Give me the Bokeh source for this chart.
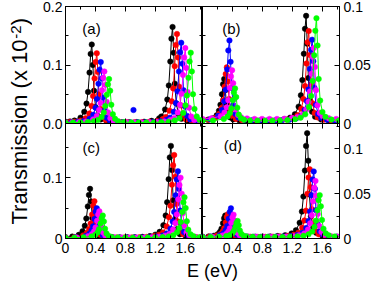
import math
from bokeh.plotting import figure
from bokeh.layouts import row, column
from bokeh.models import Range1d, LinearAxis, FixedTicker, Label, CustomLabelingPolicy
from bokeh.embed import file_html
from bokeh.resources import INLINE
from bokeh.core.properties import value

# ---------------- data: energy E (eV) and transmission T (x 1e-2) ----------------
# panel (a)
A_BLACK_E = [0.0, 0.06, 0.12, 0.201, 0.251, 0.281, 0.301, 0.321, 0.336, 0.351, 0.366, 0.381, 0.401, 0.431, 0.471, 0.55, 0.65, 0.75, 0.85, 0.95, 1.05, 1.15, 1.25, 1.28, 1.33, 1.36, 1.38, 1.40, 1.415, 1.43, 1.445, 1.46, 1.48, 1.51, 1.55, 1.63, 1.73, 1.83, 1.9]
A_BLACK_T = [0.003, 0.0035, 0.005, 0.010, 0.020, 0.034, 0.054, 0.087, 0.119, 0.135, 0.100, 0.056, 0.028, 0.013, 0.007, 0.0034, 0.0023, 0.0021, 0.0021, 0.0023, 0.003, 0.0045, 0.0087, 0.012, 0.024, 0.041, 0.065, 0.106, 0.145, 0.165, 0.121, 0.068, 0.034, 0.016, 0.008, 0.0035, 0.0021, 0.0016, 0.0014]
A_RED_E = [0.0, 0.06, 0.12, 0.2, 0.268, 0.318, 0.348, 0.368, 0.388, 0.403, 0.418, 0.433, 0.448, 0.468, 0.498, 0.538, 0.62, 0.72, 0.82, 0.92, 1.02, 1.12, 1.22, 1.30, 1.339, 1.389, 1.419, 1.439, 1.459, 1.474, 1.489, 1.504, 1.519, 1.539, 1.569, 1.609, 1.69, 1.79, 1.9]
A_RED_T = [0.002, 0.0025, 0.0031, 0.0049, 0.009, 0.017, 0.030, 0.047, 0.077, 0.105, 0.120, 0.088, 0.050, 0.025, 0.012, 0.006, 0.0031, 0.0022, 0.002, 0.002, 0.0023, 0.0029, 0.0043, 0.0075, 0.011, 0.022, 0.038, 0.060, 0.098, 0.134, 0.153, 0.113, 0.063, 0.031, 0.015, 0.007, 0.0033, 0.002, 0.0016]
A_BLUE_E = [0.0, 0.08, 0.16, 0.24, 0.321, 0.371, 0.401, 0.421, 0.441, 0.456, 0.471, 0.486, 0.501, 0.521, 0.551, 0.591, 0.67, 0.77, 0.87, 0.97, 1.07, 1.17, 1.27, 1.35, 1.396, 1.446, 1.476, 1.496, 1.516, 1.531, 1.546, 1.561, 1.576, 1.596, 1.626, 1.666, 1.746, 1.846, 1.9]
A_BLUE_T = [0.0018, 0.0021, 0.0027, 0.004, 0.008, 0.015, 0.027, 0.042, 0.068, 0.092, 0.105, 0.077, 0.044, 0.022, 0.010, 0.005, 0.0029, 0.0021, 0.0019, 0.002, 0.0022, 0.0027, 0.0038, 0.0065, 0.010, 0.020, 0.035, 0.055, 0.089, 0.122, 0.138, 0.102, 0.057, 0.029, 0.013, 0.007, 0.0031, 0.002, 0.0017]
A_MAGENTA_E = [0.0, 0.09, 0.18, 0.27, 0.369, 0.419, 0.449, 0.469, 0.489, 0.504, 0.519, 0.534, 0.549, 0.569, 0.599, 0.639, 0.72, 0.82, 0.92, 1.02, 1.12, 1.22, 1.32, 1.40, 1.45, 1.50, 1.53, 1.55, 1.57, 1.585, 1.60, 1.615, 1.63, 1.65, 1.68, 1.72, 1.80, 1.9]
A_MAGENTA_T = [0.0015, 0.0018, 0.0022, 0.0032, 0.007, 0.013, 0.023, 0.035, 0.057, 0.078, 0.089, 0.066, 0.037, 0.019, 0.009, 0.005, 0.0027, 0.0019, 0.0017, 0.0018, 0.0021, 0.0024, 0.0036, 0.0059, 0.009, 0.019, 0.032, 0.051, 0.083, 0.113, 0.129, 0.095, 0.054, 0.027, 0.012, 0.006, 0.003, 0.0019]
A_GREEN_E = [0.0, 0.1, 0.2, 0.3, 0.38, 0.432, 0.482, 0.512, 0.532, 0.552, 0.567, 0.582, 0.597, 0.612, 0.632, 0.662, 0.702, 0.78, 0.88, 0.98, 1.08, 1.18, 1.28, 1.38, 1.46, 1.523, 1.573, 1.603, 1.623, 1.643, 1.658, 1.673, 1.688, 1.703, 1.723, 1.753, 1.793, 1.9]
A_GREEN_T = [0.0014, 0.0015, 0.0018, 0.0025, 0.0038, 0.006, 0.011, 0.019, 0.030, 0.049, 0.067, 0.076, 0.056, 0.032, 0.016, 0.008, 0.004, 0.0024, 0.0018, 0.0017, 0.0018, 0.0019, 0.0022, 0.0032, 0.0052, 0.009, 0.018, 0.031, 0.048, 0.078, 0.106, 0.121, 0.089, 0.050, 0.025, 0.012, 0.006, 0.0025]
A_BLUE_EXTRA_E = [0.908]
A_BLUE_EXTRA_T = [0.023]

# panel (b)
B_BLACK_E = [0.0, 0.07, 0.14, 0.19, 0.22, 0.24, 0.26, 0.275, 0.29, 0.305, 0.32, 0.34, 0.37, 0.41, 0.49, 0.59, 0.69, 0.79, 0.89, 0.99, 1.09, 1.17, 1.234, 1.284, 1.314, 1.334, 1.354, 1.369, 1.384, 1.399, 1.414, 1.434, 1.464, 1.504, 1.584, 1.684, 1.784, 1.9]
B_BLACK_T = [0.0027, 0.0032, 0.0044, 0.007, 0.0109, 0.016, 0.025, 0.0336, 0.038, 0.0285, 0.0168, 0.0092, 0.0052, 0.0035, 0.0027, 0.0024, 0.0024, 0.0025, 0.0026, 0.0029, 0.0036, 0.005, 0.0079, 0.0144, 0.0241, 0.0371, 0.0596, 0.0809, 0.092, 0.0682, 0.0389, 0.020, 0.010, 0.0058, 0.0034, 0.0026, 0.0024, 0.0022]
B_RED_E = [0.0, 0.08, 0.175, 0.225, 0.255, 0.275, 0.295, 0.31, 0.325, 0.34, 0.355, 0.375, 0.405, 0.445, 0.525, 0.625, 0.725, 0.825, 0.925, 1.025, 1.125, 1.205, 1.269, 1.319, 1.349, 1.369, 1.389, 1.404, 1.419, 1.434, 1.449, 1.469, 1.499, 1.539, 1.619, 1.719, 1.819, 1.9]
B_RED_T = [0.0027, 0.0032, 0.005, 0.0083, 0.0133, 0.0199, 0.0314, 0.0423, 0.048, 0.0358, 0.0209, 0.0112, 0.0061, 0.0039, 0.0029, 0.0025, 0.0025, 0.0025, 0.0025, 0.0028, 0.0034, 0.0046, 0.0071, 0.0126, 0.0209, 0.032, 0.0513, 0.0695, 0.079, 0.0586, 0.0336, 0.0174, 0.0089, 0.0052, 0.0032, 0.0025, 0.0023, 0.0022]
B_BLUE_E = [0.0, 0.1, 0.21, 0.26, 0.29, 0.31, 0.33, 0.345, 0.36, 0.375, 0.39, 0.41, 0.44, 0.48, 0.56, 0.66, 0.76, 0.86, 0.96, 1.06, 1.16, 1.25, 1.315, 1.365, 1.395, 1.415, 1.435, 1.45, 1.465, 1.48, 1.495, 1.515, 1.545, 1.585, 1.665, 1.765, 1.9]
B_BLUE_T = [0.0028, 0.0036, 0.0066, 0.0115, 0.019, 0.0289, 0.0462, 0.0625, 0.071, 0.0527, 0.0303, 0.0158, 0.0081, 0.0049, 0.0032, 0.0027, 0.0025, 0.0025, 0.0025, 0.0027, 0.0032, 0.0043, 0.0066, 0.0116, 0.0191, 0.0291, 0.0465, 0.063, 0.0716, 0.0532, 0.0305, 0.0159, 0.0082, 0.0049, 0.0031, 0.0025, 0.0022]
B_MAGENTA_E = [0.0, 0.12, 0.245, 0.295, 0.325, 0.345, 0.365, 0.38, 0.395, 0.41, 0.425, 0.445, 0.475, 0.515, 0.595, 0.695, 0.795, 0.895, 0.995, 1.095, 1.195, 1.27, 1.336, 1.386, 1.416, 1.436, 1.456, 1.471, 1.486, 1.501, 1.516, 1.536, 1.566, 1.606, 1.686, 1.786, 1.9]
B_MAGENTA_T = [0.0039, 0.0044, 0.0063, 0.0093, 0.0138, 0.0199, 0.0304, 0.0403, 0.0455, 0.0344, 0.0207, 0.0119, 0.0072, 0.0053, 0.0043, 0.0039, 0.0039, 0.0039, 0.0039, 0.0041, 0.0046, 0.0055, 0.0075, 0.0119, 0.0185, 0.0273, 0.0425, 0.057, 0.0645, 0.0483, 0.0285, 0.0157, 0.0089, 0.0061, 0.0045, 0.0039, 0.0038]
B_GREEN_E = [0.0, 0.14, 0.285, 0.335, 0.365, 0.385, 0.405, 0.42, 0.435, 0.45, 0.465, 0.485, 0.515, 0.555, 0.635, 0.735, 0.835, 0.935, 1.035, 1.135, 1.235, 1.31, 1.372, 1.422, 1.452, 1.472, 1.492, 1.507, 1.522, 1.537, 1.552, 1.572, 1.602, 1.642, 1.722, 1.822, 1.9]
B_GREEN_T = [0.0022, 0.0025, 0.0038, 0.0059, 0.0089, 0.0129, 0.0199, 0.0266, 0.030, 0.0226, 0.0135, 0.0076, 0.0045, 0.0032, 0.0025, 0.0024, 0.0023, 0.0024, 0.0026, 0.0029, 0.0037, 0.005, 0.0078, 0.0141, 0.0236, 0.0363, 0.0583, 0.0792, 0.090, 0.0667, 0.0381, 0.0196, 0.0098, 0.0057, 0.0034, 0.0026, 0.0024]

# panel (c)
C_BLACK_E = [0.0, 0.09, 0.178, 0.228, 0.258, 0.278, 0.298, 0.313, 0.328, 0.343, 0.358, 0.378, 0.408, 0.448, 0.528, 0.628, 0.728, 0.828, 0.928, 1.028, 1.128, 1.20, 1.258, 1.308, 1.338, 1.358, 1.378, 1.393, 1.408, 1.423, 1.438, 1.458, 1.488, 1.528, 1.608, 1.708, 1.808, 1.9]
C_BLACK_T = [0.0022, 0.0032, 0.006, 0.012, 0.021, 0.033, 0.053, 0.072, 0.082, 0.061, 0.034, 0.017, 0.008, 0.004, 0.0025, 0.002, 0.0018, 0.0019, 0.0021, 0.0027, 0.004, 0.0064, 0.011, 0.022, 0.038, 0.060, 0.098, 0.134, 0.153, 0.113, 0.063, 0.031, 0.015, 0.007, 0.0033, 0.002, 0.0016, 0.0014]
C_RED_E = [0.0, 0.12, 0.236, 0.286, 0.316, 0.336, 0.356, 0.371, 0.386, 0.401, 0.416, 0.436, 0.466, 0.506, 0.586, 0.686, 0.786, 0.886, 0.986, 1.086, 1.186, 1.25, 1.302, 1.352, 1.382, 1.402, 1.422, 1.437, 1.452, 1.467, 1.482, 1.502, 1.532, 1.572, 1.652, 1.752, 1.852, 1.9]
C_RED_T = [0.0016, 0.0023, 0.005, 0.0093, 0.0159, 0.0246, 0.0397, 0.0541, 0.0615, 0.0455, 0.0258, 0.0131, 0.0064, 0.0035, 0.0022, 0.0018, 0.0017, 0.0018, 0.002, 0.0026, 0.004, 0.0062, 0.010, 0.020, 0.035, 0.054, 0.089, 0.121, 0.138, 0.102, 0.057, 0.028, 0.013, 0.007, 0.0031, 0.002, 0.0015, 0.0014]
C_BLUE_E = [0.0, 0.13, 0.268, 0.318, 0.348, 0.368, 0.388, 0.403, 0.418, 0.433, 0.448, 0.468, 0.498, 0.538, 0.618, 0.718, 0.818, 0.918, 1.018, 1.118, 1.218, 1.30, 1.352, 1.402, 1.432, 1.452, 1.472, 1.487, 1.502, 1.517, 1.532, 1.552, 1.582, 1.622, 1.702, 1.802, 1.9]
C_BLUE_T = [0.0014, 0.0019, 0.0042, 0.0078, 0.0131, 0.0201, 0.0324, 0.044, 0.050, 0.037, 0.0211, 0.0108, 0.0054, 0.0031, 0.002, 0.0016, 0.0016, 0.0016, 0.0017, 0.0022, 0.0031, 0.0051, 0.0083, 0.0162, 0.0281, 0.0439, 0.0714, 0.0975, 0.111, 0.0819, 0.0461, 0.023, 0.0108, 0.0056, 0.0027, 0.0018, 0.0014]
C_MAGENTA_E = [0.0, 0.15, 0.302, 0.352, 0.382, 0.402, 0.422, 0.437, 0.452, 0.467, 0.482, 0.502, 0.532, 0.572, 0.652, 0.752, 0.852, 0.952, 1.052, 1.152, 1.252, 1.33, 1.387, 1.437, 1.467, 1.487, 1.507, 1.522, 1.537, 1.552, 1.567, 1.587, 1.617, 1.657, 1.737, 1.837, 1.9]
C_MAGENTA_T = [0.0013, 0.0018, 0.0039, 0.0071, 0.0118, 0.0182, 0.0292, 0.0396, 0.045, 0.0333, 0.019, 0.0098, 0.0049, 0.0028, 0.0019, 0.0016, 0.0016, 0.0016, 0.0017, 0.0021, 0.0029, 0.0046, 0.0076, 0.0147, 0.0255, 0.0398, 0.0647, 0.0883, 0.1005, 0.0741, 0.0418, 0.0209, 0.0099, 0.0052, 0.0025, 0.0017, 0.0015]
C_GREEN_E = [0.0, 0.12, 0.24, 0.348, 0.398, 0.428, 0.448, 0.468, 0.483, 0.498, 0.513, 0.528, 0.548, 0.578, 0.618, 0.698, 0.798, 0.898, 0.998, 1.098, 1.198, 1.298, 1.38, 1.44, 1.49, 1.52, 1.54, 1.56, 1.575, 1.59, 1.605, 1.62, 1.64, 1.67, 1.71, 1.79, 1.9]
C_GREEN_T = [0.0012, 0.0014, 0.0019, 0.0034, 0.0061, 0.0101, 0.0154, 0.0247, 0.0334, 0.038, 0.0282, 0.0162, 0.0084, 0.0043, 0.0026, 0.0017, 0.0015, 0.0013, 0.0014, 0.0015, 0.0018, 0.0023, 0.0033, 0.0054, 0.0102, 0.0175, 0.0271, 0.0439, 0.0598, 0.068, 0.0502, 0.0285, 0.0144, 0.007, 0.0038, 0.002, 0.0014]

# panel (d)
D_BLACK_E = [0.0, 0.08, 0.154, 0.204, 0.234, 0.254, 0.274, 0.289, 0.304, 0.319, 0.334, 0.354, 0.384, 0.424, 0.504, 0.604, 0.704, 0.804, 0.904, 1.004, 1.104, 1.19, 1.248, 1.298, 1.328, 1.348, 1.368, 1.383, 1.398, 1.413, 1.428, 1.448, 1.478, 1.518, 1.598, 1.698, 1.798, 1.9]
D_BLACK_T = [0.0019, 0.0022, 0.0031, 0.0048, 0.0074, 0.0109, 0.0169, 0.0225, 0.0255, 0.0191, 0.0113, 0.0063, 0.0036, 0.0025, 0.0021, 0.002, 0.002, 0.002, 0.0023, 0.0027, 0.0036, 0.0056, 0.0091, 0.0175, 0.0299, 0.0466, 0.0755, 0.1029, 0.1171, 0.0865, 0.0489, 0.0246, 0.0118, 0.0064, 0.0033, 0.0023, 0.002, 0.0018]
D_RED_E = [0.0, 0.09, 0.19, 0.24, 0.27, 0.29, 0.31, 0.325, 0.34, 0.355, 0.37, 0.39, 0.42, 0.46, 0.54, 0.64, 0.74, 0.84, 0.94, 1.04, 1.14, 1.22, 1.282, 1.332, 1.362, 1.382, 1.402, 1.417, 1.432, 1.447, 1.462, 1.482, 1.512, 1.552, 1.632, 1.732, 1.832, 1.9]
D_RED_T = [0.0019, 0.0021, 0.0032, 0.005, 0.0078, 0.0114, 0.0178, 0.0239, 0.027, 0.0202, 0.012, 0.0066, 0.0038, 0.0026, 0.002, 0.0019, 0.0018, 0.0018, 0.002, 0.0023, 0.0029, 0.0041, 0.0065, 0.0119, 0.0201, 0.0309, 0.0498, 0.0677, 0.077, 0.057, 0.0325, 0.0166, 0.0082, 0.0047, 0.0027, 0.002, 0.0018, 0.0017]
D_BLUE_E = [0.0, 0.11, 0.23, 0.28, 0.31, 0.33, 0.35, 0.365, 0.38, 0.395, 0.41, 0.43, 0.46, 0.50, 0.58, 0.68, 0.78, 0.88, 0.98, 1.08, 1.18, 1.27, 1.336, 1.386, 1.416, 1.436, 1.456, 1.471, 1.486, 1.501, 1.516, 1.536, 1.566, 1.606, 1.686, 1.786, 1.9]
D_BLUE_T = [0.0019, 0.0022, 0.0036, 0.0059, 0.0094, 0.014, 0.022, 0.0296, 0.0335, 0.025, 0.0146, 0.0079, 0.0043, 0.0028, 0.0021, 0.0019, 0.0018, 0.0018, 0.002, 0.0022, 0.0027, 0.0039, 0.0063, 0.0116, 0.0195, 0.030, 0.0482, 0.0655, 0.0745, 0.0552, 0.0314, 0.0161, 0.008, 0.0046, 0.0026, 0.002, 0.0018]
D_MAGENTA_E = [0.0, 0.13, 0.265, 0.315, 0.345, 0.365, 0.385, 0.40, 0.415, 0.43, 0.445, 0.465, 0.495, 0.535, 0.615, 0.715, 0.815, 0.915, 1.015, 1.115, 1.215, 1.29, 1.359, 1.409, 1.439, 1.459, 1.479, 1.494, 1.509, 1.524, 1.539, 1.559, 1.589, 1.629, 1.709, 1.809, 1.9]
D_MAGENTA_T = [0.0017, 0.002, 0.0032, 0.005, 0.0077, 0.0113, 0.0175, 0.0234, 0.0265, 0.0199, 0.0118, 0.0065, 0.0037, 0.0026, 0.002, 0.0019, 0.0018, 0.0018, 0.0019, 0.0021, 0.0026, 0.0035, 0.0056, 0.0101, 0.0169, 0.0259, 0.0415, 0.0563, 0.064, 0.0474, 0.0271, 0.014, 0.0071, 0.0041, 0.0025, 0.0019, 0.0017]
D_GREEN_E = [0.0, 0.11, 0.22, 0.319, 0.369, 0.399, 0.419, 0.439, 0.454, 0.469, 0.484, 0.499, 0.519, 0.549, 0.589, 0.669, 0.769, 0.869, 0.969, 1.069, 1.169, 1.269, 1.35, 1.416, 1.466, 1.496, 1.516, 1.536, 1.551, 1.566, 1.581, 1.596, 1.616, 1.646, 1.686, 1.766, 1.866, 1.9]
D_GREEN_T = [0.0016, 0.0017, 0.002, 0.0027, 0.004, 0.0059, 0.0085, 0.013, 0.0173, 0.0195, 0.0147, 0.0089, 0.0051, 0.0031, 0.0023, 0.0019, 0.0017, 0.0018, 0.0017, 0.0018, 0.002, 0.0023, 0.0031, 0.0046, 0.0079, 0.013, 0.0197, 0.0314, 0.0425, 0.0482, 0.0358, 0.0206, 0.0108, 0.0057, 0.0035, 0.0022, 0.0018, 0.0018]

# ---------------- axes / ticks ----------------
X_RANGE = (0.0, 1.83)
X_MAJOR = [0.0, 0.4, 0.8, 1.2, 1.6]
X_MAJOR_D = [0.4, 0.8, 1.2, 1.6]
X_MINOR = [0.2, 0.6, 1.0, 1.4, 1.8]
X_LABELS_C = {0.0: "0", 0.4: "0.4", 0.8: "0.8", 1.2: "1.2", 1.6: "1.6"}
X_LABELS_D = {0.4: "0.4", 0.8: "0.8", 1.2: "1.2", 1.6: "1.6"}

Y_MAX = {"a": 0.2, "b": 0.1, "c": 0.19, "d": 0.1278}
A_Y_MAJOR = [0.0, 0.1, 0.2]
A_Y_MINOR = [0.05, 0.15]
A_Y_LABELS = {0.0: "0.0", 0.1: "0.1", 0.2: "0.2"}
B_Y_MAJOR = [0.0, 0.05, 0.1]
B_Y_MINOR = [0.025, 0.075]
B_Y_LABELS = {0.0: "0", 0.05: "0.05", 0.1: "0.1"}
C_Y_MAJOR = [0.0, 0.1]
C_Y_MINOR = [0.05, 0.15]
C_Y_LABELS = {0.0: "0", 0.1: "0.1"}
D_Y_MAJOR = [0.0, 0.05, 0.1]
D_Y_MINOR = [0.025, 0.075, 0.125]
D_Y_LABELS = {0.0: "0", 0.05: "0.05", 0.1: "0.1"}

FONT = "Liberation Sans"
COLORS = ["#000000", "#ff0000", "#0000ff", "#ff00ff", "#00ff00"]
HIDE_ALL = "for (const i of [...indices]) { indices.unset(i) }\nreturn indices"


def style_axis(ax, major, minor, labels=None, standoff=0):
    ax.ticker = FixedTicker(ticks=major, minor_ticks=minor)
    ax.major_tick_in = 5
    ax.major_tick_out = 0
    ax.minor_tick_in = 3
    ax.minor_tick_out = 0
    ax.axis_line_color = "black"
    ax.axis_line_width = 1
    ax.major_tick_line_color = "black"
    ax.minor_tick_line_color = "black"
    ax.major_label_text_font = FONT
    ax.major_label_text_color = "black"
    if labels is None:
        ax.major_label_text_font_size = "0px"
        ax.major_label_standoff = 0
        ax.major_label_policy = CustomLabelingPolicy(code=HIDE_ALL)
    else:
        ax.major_label_text_font_size = "14px"
        ax.major_label_standoff = standoff
        ax.major_label_overrides = labels


def panel(series, key, frame_h, borders, y_major, y_minor, y_labels, y_side,
          x_major, x_labels, letter, letter_xy, extra=None):
    bt, br, bb, bl = borders
    p = figure(frame_width=137, frame_height=frame_h, title=None,
               x_range=Range1d(*X_RANGE), y_range=Range1d(0, Y_MAX[key]),
               output_backend="svg", toolbar_location=None,
               x_axis_location=None, y_axis_location=None,
               min_border_top=bt, min_border_right=br,
               min_border_bottom=bb, min_border_left=bl)
    p.grid.visible = False
    p.outline_line_color = "black"
    p.outline_line_width = 1
    p.background_fill_color = "white"
    p.border_fill_color = None
    for side in ("left", "right"):
        ax = LinearAxis()
        style_axis(ax, y_major, y_minor, y_labels if side == y_side else None,
                   standoff=3 if side == "left" else 4)
        p.add_layout(ax, side)
    for side in ("above", "below"):
        ax = LinearAxis()
        style_axis(ax, x_major, X_MINOR, x_labels if side == "below" else None, standoff=4)
        p.add_layout(ax, side)
    for (xs, ys), color in zip(series, COLORS):
        p.line(xs, ys, line_color=color, line_width=1)
        p.scatter(xs, ys, size=5.5, fill_color=color, line_color=color, line_width=0.5)
    if extra is not None:
        xs, ys, color = extra
        p.scatter(xs, ys, size=5.5, fill_color=color, line_color=color, line_width=0.5)
    p.add_layout(Label(x=letter_xy[0], y=letter_xy[1], text=letter,
                       text_font=FONT, text_font_size="15px", text_color="black",
                       text_align="center", text_baseline="middle"))
    return p


fa = panel([(A_BLACK_E, A_BLACK_T), (A_RED_E, A_RED_T), (A_BLUE_E, A_BLUE_T),
            (A_MAGENTA_E, A_MAGENTA_T), (A_GREEN_E, A_GREEN_T)], "a", 117,
           (6, 0, 8, 33), A_Y_MAJOR, A_Y_MINOR, A_Y_LABELS, "left",
           X_MAJOR, None, "(a)", (0.347, 0.163),
           extra=(A_BLUE_EXTRA_E, A_BLUE_EXTRA_T, COLORS[2]))
fb = panel([(B_BLACK_E, B_BLACK_T), (B_RED_E, B_RED_T), (B_BLUE_E, B_BLUE_T),
            (B_MAGENTA_E, B_MAGENTA_T), (B_GREEN_E, B_GREEN_T)], "b", 117,
           (6, 34, 8, 0), B_Y_MAJOR, B_Y_MINOR, B_Y_LABELS, "right",
           X_MAJOR, None, "(b)", (0.385, 0.0816))
fc = panel([(C_BLACK_E, C_BLACK_T), (C_RED_E, C_RED_T), (C_BLUE_E, C_BLUE_T),
            (C_MAGENTA_E, C_MAGENTA_T), (C_GREEN_E, C_GREEN_T)], "c", 115,
           (8, 0, 22, 33), C_Y_MAJOR, C_Y_MINOR, C_Y_LABELS, "left",
           X_MAJOR, X_LABELS_C, "(c)", (0.345, 0.151))
fd = panel([(D_BLACK_E, D_BLACK_T), (D_RED_E, D_RED_T), (D_BLUE_E, D_BLUE_T),
            (D_MAGENTA_E, D_MAGENTA_T), (D_GREEN_E, D_GREEN_T)], "d", 115,
           (8, 34, 22, 0), D_Y_MAJOR, D_Y_MINOR, D_Y_LABELS, "right",
           X_MAJOR_D, X_LABELS_D, "(d)", (0.405, 0.1034))

# y-axis title (own narrow figure spanning both rows)
YL_W, YL_H = 32, 282
yl = figure(width=YL_W, height=YL_H, title=None, x_range=Range1d(0, YL_W), y_range=Range1d(0, YL_H),
            output_backend="svg", toolbar_location=None, min_border=0,
            x_axis_location=None, y_axis_location=None)
yl.grid.visible = False
yl.outline_line_color = None
yl.border_fill_color = None
yl.background_fill_color = None
MAIN_FS, SUP_FS = 22, 15
main_len = 8.446 * MAIN_FS
sup_len = 0.889 * SUP_FS
y0 = 58
main_x = 26 - 0.3 * MAIN_FS
sup_x = 20 - 0.3 * SUP_FS
yl.text(x=[main_x], y=[y0], text=["Transmission (x 10"], angle=math.pi / 2,
        text_font=value(FONT), text_font_size=f"{MAIN_FS}px", text_color="black",
        text_align="left", text_baseline="middle")
yl.text(x=[sup_x], y=[y0 + main_len], text=["-2"], angle=math.pi / 2,
        text_font=value(FONT), text_font_size=f"{SUP_FS}px", text_color="black",
        text_align="left", text_baseline="middle")
yl.text(x=[main_x], y=[y0 + main_len + sup_len], text=[")"], angle=math.pi / 2,
        text_font=value(FONT), text_font_size=f"{MAIN_FS}px", text_color="black",
        text_align="left", text_baseline="middle")

# x-axis title
XL_W, XL_H = 341, 22
xl = figure(width=XL_W, height=XL_H, title=None, x_range=Range1d(0, XL_W), y_range=Range1d(0, XL_H),
            output_backend="svg", toolbar_location=None, min_border=0,
            x_axis_location=None, y_axis_location=None)
xl.grid.visible = False
xl.outline_line_color = None
xl.border_fill_color = None
xl.background_fill_color = None
XL_FS = 18
xl.text(x=[180], y=[6 + 0.3 * XL_FS], text=["E (eV)"], text_font=value(FONT),
        text_font_size=f"{XL_FS}px", text_color="black",
        text_align="center", text_baseline="middle")

top = row(fa, fb)
bottom = row(fc, fd, margin=(-16, 0, 0, 0))
grid = column(top, bottom, xl)
root = row(yl, grid)

open("out.html", "w").write(file_html(root, INLINE))
